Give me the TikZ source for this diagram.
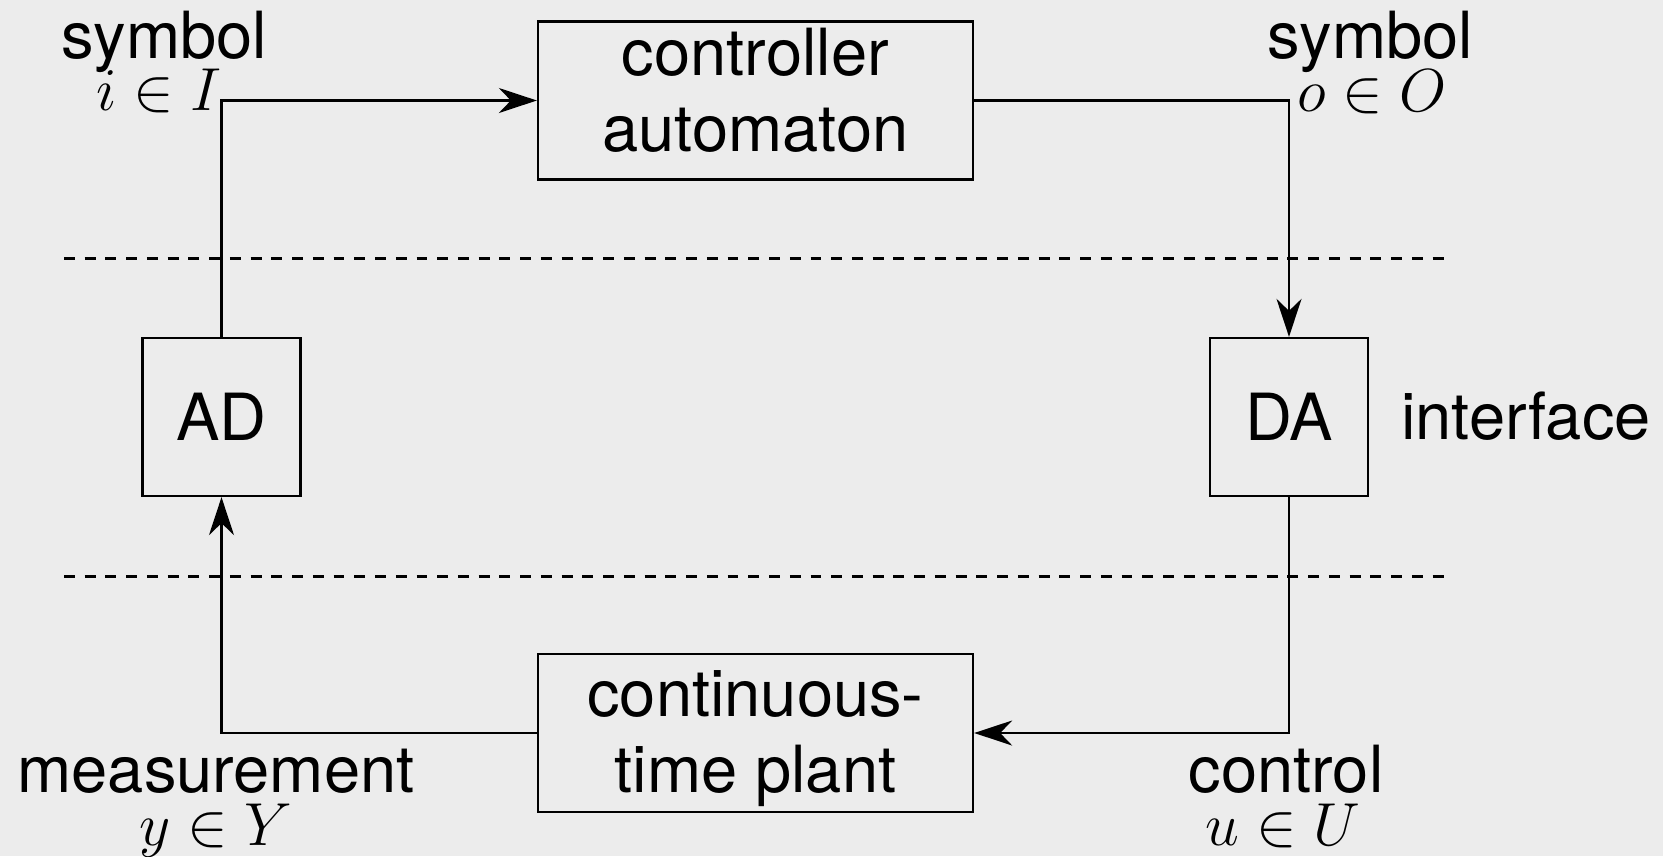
\documentclass[tikz,border=0pt]{standalone}
\usepackage{fontspec}
\setmainfont{TeX Gyre Heros}
\usetikzlibrary{arrows.meta}
\definecolor{bgray}{RGB}{236,236,236}

\begin{document}
\begin{tikzpicture}[
    block/.style={draw, line width=0.65pt, minimum width=4.35cm, minimum height=1.58cm, align=center, inner sep=0pt},
    conv/.style={draw, line width=0.65pt, minimum width=1.58cm, minimum height=1.58cm, inner sep=0pt},
    lbl/.style={anchor=base, inner sep=0pt},
    flow/.style={line width=0.65pt, -{Stealth[length=3.8mm, width=2.5mm, inset=1.2mm]}},
    layer/.style={line width=0.85pt, dash pattern=on 3.1pt off 2.8pt},
    font=\fontsize{18.5}{21.6}\selectfont
]
    \fill[bgray] (0,0) rectangle (16.63,8.56);
    \useasboundingbox (0,0) rectangle (16.63,8.56);

    % blocks
    \node[block] (ctrl) at (7.555,7.555) {controller\\automaton\rule[-6pt]{0pt}{0pt}};
    \node[conv] (ad) at (2.215,4.39) {AD};
    \node[conv] (da) at (12.89,4.39) {DA};
    \node[block] (plant) at (7.555,1.23) {\rule{0pt}{16pt}continuous-\\time plant};

    % interface layer
    \draw[layer] (0.64,5.98) -- (14.45,5.98);
    \draw[layer] (0.64,2.80) -- (14.45,2.80);

    % signals
    \draw[flow] (ad.north) |- (ctrl.west);
    \draw[flow] (ctrl.east) -| (da.north);
    \draw[flow] (da.south) |- (plant.east);
    \draw[flow] (plant.west) -| (ad.south);

    % labels
    \node[lbl] (symin) at (1.64,7.975) {symbol};
    \node[lbl] (setin) at (1.59,7.46) {$i \in I$};
    \node[lbl] (symout) at (13.70,7.975) {symbol};
    \node[lbl] (setout) at (13.72,7.45) {$o \in O$};
    \node[lbl] (iface) at (15.26,4.17) {interface};
    \node[lbl] (meas) at (2.16,0.64) {measurement};
    \node[lbl] (setmeas) at (2.16,0.11) {$y \in Y$};
    \node[lbl] (ctl) at (12.86,0.64) {control};
    \node[lbl] (setctl) at (12.83,0.11) {$u \in U$};
\end{tikzpicture}
\end{document}
